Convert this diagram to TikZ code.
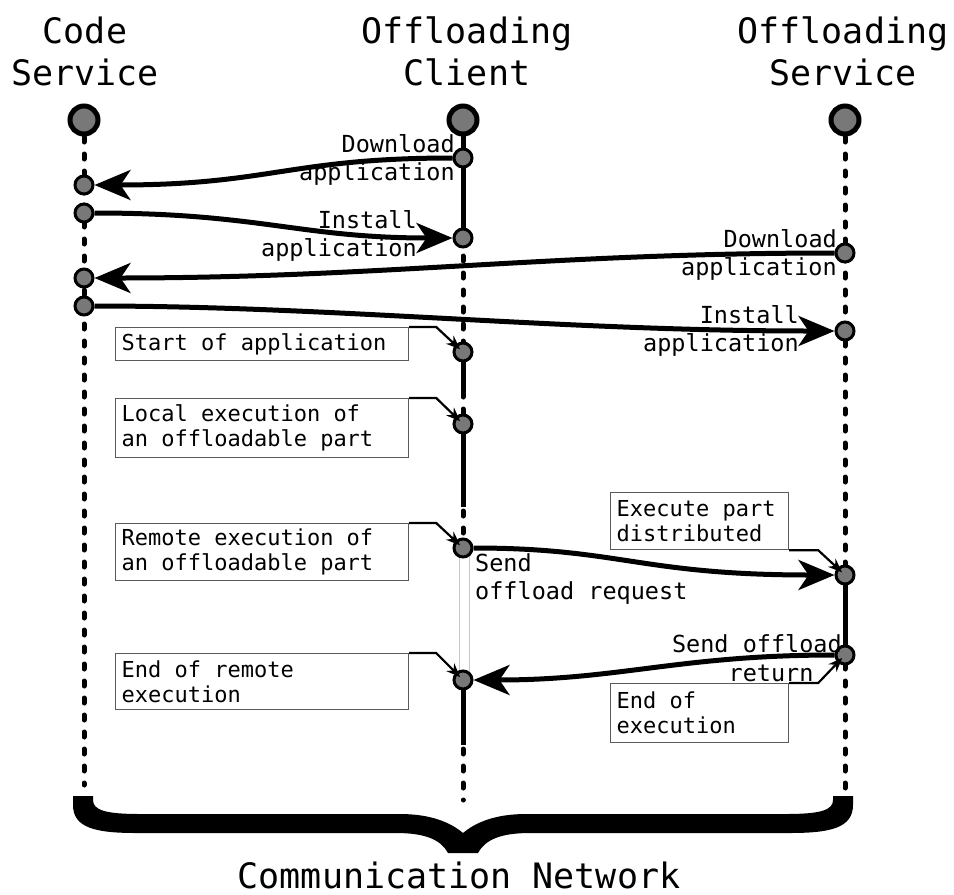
\documentclass[tikz,border=0pt]{standalone}
\usepackage{fontspec}
\setmainfont{DejaVu Sans Mono}
\usetikzlibrary{arrows.meta}
\pgfdeclarelayer{bg}
\pgfsetlayers{bg,main}
\definecolor{dotgray}{HTML}{787878}
\definecolor{notegray}{HTML}{5A5A5A}
\definecolor{railgray}{HTML}{C8C8C8}
% monospaced size switch with a fixed, full-cell word space
\newcommand\monosize[2]{\fontsize{#1}{#2}\selectfont\spaceskip=0.602em\relax}
\newcommand\cellspace{\spaceskip=0.602em\relax\xspaceskip=0.602em\relax}

\begin{document}
\begin{tikzpicture}[x=1pt,y=-1pt,
  head/.style={font=\monosize{35}{42}, align=center, inner sep=0pt},
  lbl/.style={font=\monosize{23.5}{28.5}, inner sep=0pt, execute at begin node=\cellspace},
  bigdot/.style={circle, draw=black, line width=5pt, fill=dotgray, minimum size=28pt, inner sep=0pt},
  evdot/.style={circle, draw=black, line width=3pt, fill=dotgray, minimum size=18pt, inner sep=0pt},
  life/.style={line width=5pt, dash pattern=on 5pt off 12pt, line cap=round},
  active/.style={line width=5pt},
  msg/.style={line width=5pt, -{Stealth[length=36pt, width=30pt, inset=10pt]}},
  note/.style={draw=notegray, line width=1.2pt, fill=white, anchor=north west,
    font=\monosize{22}{25}, align=left, inner xsep=6pt, inner ysep=3pt,
    execute at begin node=\cellspace},
  notelink/.style={line width=2.2pt, -{Stealth[length=14pt, width=11pt]}, shorten >=4pt}
]
\useasboundingbox (0,0) rectangle (954,895);

% column headings
\node[head] (hcs) at (85,51) {Code\\Service};
\node[head] (hoc) at (467,51) {Offloading\\Client};
\node[head] (hos) at (843,51) {Offloading\\Service};

% lifeline heads and events
\node[bigdot] (cs0) at (84,120) {};
\node[bigdot] (oc0) at (463,120) {};
\node[bigdot] (os0) at (845,120) {};

\node[evdot] (cs1) at (84,185) {};
\node[evdot] (cs2) at (84,213) {};
\node[evdot] (cs3) at (84,278) {};
\node[evdot] (cs4) at (84,306) {};

\node[evdot] (oc1) at (463,158) {};
\node[evdot] (oc2) at (463,238) {};
\node[evdot] (oc3) at (463,352) {};
\node[evdot] (oc4) at (463,424) {};
\node[evdot] (oc5) at (463,548) {};
\node[evdot] (oc6) at (463,680) {};

\node[evdot] (os1) at (845,253) {};
\node[evdot] (os2) at (845,331) {};
\node[evdot] (os3) at (845,575) {};
\node[evdot] (os4) at (845,655) {};

% free ends of the lifelines
\coordinate (csEnd) at (84,785);
\coordinate (ocEnd) at (463,800);
\coordinate (osEnd) at (845,800);
\coordinate (oc3b) at (463,392);
\coordinate (oc4b) at (463,507);
\coordinate (oc6b) at (463,745);
\coordinate (railLt) at (459,548);
\coordinate (railLb) at (459,680);
\coordinate (railRt) at (469,548);
\coordinate (railRb) at (469,680);

\begin{pgfonlayer}{bg}
  \draw[life] (cs0.center) -- (csEnd);
  \draw[life] (oc0.center) -- (ocEnd);
  \draw[life] (os0.center) -- (osEnd);
  \draw[active] (oc0.center) -- (oc2.center);
  \draw[active] (oc3.center) -- (oc3b);
  \draw[active] (oc4.center) -- (oc4b);
  \draw[active] (oc6.center) -- (oc6b);
  \draw[active] (os3.center) -- (os4.center);
  \fill[white] (railLt) rectangle (railRb);
  \draw[railgray, line width=0.8pt] (railLt) -- (railLb) (railRt) -- (railRb);
\end{pgfonlayer}

% messages
\draw[msg] (oc1) .. controls (290,158) and (270,185) .. (cs1);
\draw[msg] (cs2) .. controls (260,213) and (300,238) .. (oc2);
\draw[msg] (os1) .. controls (550,253) and (380,278) .. (cs3);
\draw[msg] (cs4) .. controls (330,306) and (560,331) .. (os2);
\draw[msg] (oc5) .. controls (620,548) and (640,575) .. (os3);
\draw[msg] (os4) .. controls (680,655) and (620,680) .. (oc6);

% message labels
\node[lbl, anchor=east, align=right] (l1) at (455,160) {Download\\application};
\node[lbl, anchor=east, align=right] (l2) at (417,236) {Install\\application};
\node[lbl, anchor=east, align=right] (l3) at (837,255) {Download\\application};
\node[lbl, anchor=east, align=right] (l4) at (799,331) {Install\\application};
\node[lbl, anchor=west, align=left, text width=215pt] (l5) at (475,579) {Send\\offload request};
\node[lbl, anchor=east, align=right, text width=172pt] (l6) at (842,658) {Send offload\\return\hphantom{xx}};

% notes
\node[note, text width=281pt, minimum height=33pt] (n1) at (115,327) {Start of application};
\node[note, text width=281pt, minimum height=59pt] (n2) at (115,398) {Local execution of\\an offloadable part};
\node[note, text width=281pt, minimum height=57pt] (n3) at (115,523) {Remote execution of\\an offloadable part};
\node[note, text width=281pt, minimum height=56pt] (n4) at (115,653) {End of remote\\execution};
\node[note, text width=166pt, minimum height=57pt] (n5) at (610,492) {Execute part\\distributed};
\node[note, text width=166pt, minimum height=59pt] (n6) at (610,683) {End of\\execution};

\draw[notelink] (n1.north east) -- ++(27,0) -- (oc3.center);
\draw[notelink] (n2.north east) -- ++(27,0) -- (oc4.center);
\draw[notelink] (n3.north east) -- ++(27,0) -- (oc5.center);
\draw[notelink] (n4.north east) -- ++(27,0) -- (oc6.center);
\draw[notelink] (n5.south east) -- ++(29,0) -- (os3.center);
\draw[notelink] (n6.north east) -- ++(29,0) -- (os4.center);

% network brace
\fill (73,796) -- (93,796) -- (93,800)
  .. controls (93,810) and (105,814) .. (140,814) -- (400,814)
  .. controls (430,814) and (450,822) .. (463,833)
  .. controls (476,822) and (496,814) .. (526,814) -- (786,814)
  .. controls (821,814) and (833,810) .. (833,800) -- (833,796) -- (853,796) -- (853,805)
  .. controls (853,828) and (830,833) .. (790,833) -- (530,833)
  .. controls (500,833) and (485,840) .. (478,853) -- (448,853)
  .. controls (441,840) and (426,833) .. (396,833) -- (136,833)
  .. controls (96,833) and (73,828) .. (73,805) -- cycle;
\node[font=\monosize{35}{42}, inner sep=0pt, anchor=base] (net) at (459,888) {Communication Network};
\end{tikzpicture}
\end{document}
